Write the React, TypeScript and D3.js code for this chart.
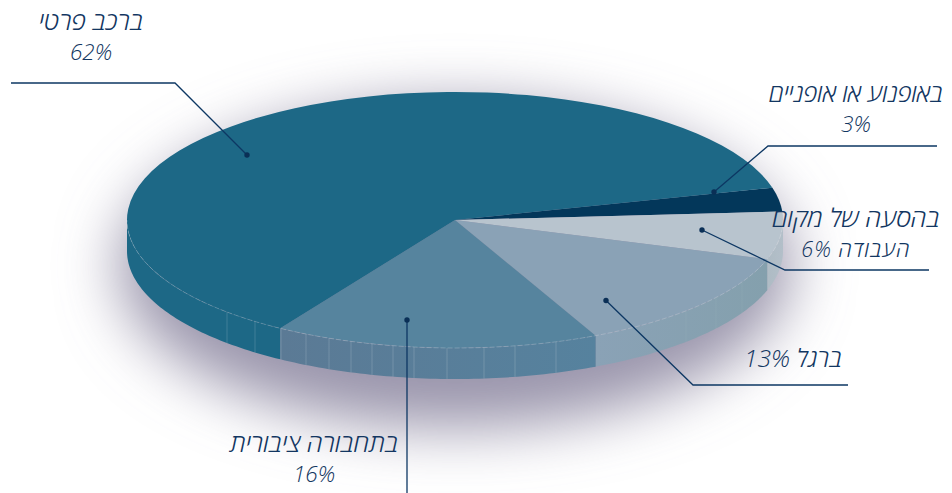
import React from "react";
import * as d3 from "d3";

// Commute modes, listed clockwise from the narrow bicycle slice.
const modes = ["bike", "shuttle", "walk", "transit", "car"];
const shares = [3, 6, 13, 16, 62];
const topColors = ["#03375a", "#b8c4ce", "#8aa2b6", "#56849e", "#1d6886"];
const wallLeft = ["#03375a", "#aebbc4", "#8aa2b6", "#5b7a95", "#1d6886"];
const wallRight = ["#03375a", "#b3bfc9", "#84a0ad", "#56829e", "#1d6886"];

// Horizontal positions of the panel seams on the visible rim.
const seamXs = [227, 255, 281, 306, 329, 351, 372, 393, 414, 447, 484, 515, 556, 686, 716, 742, 768];

const labelLines = [
  ["באופנוע או אופניים", "3%"],
  ["בהסעה של מקום", "העבודה 6%"],
  ["ברגל 13%"],
  ["בתחבורה ציבורית", "16%"],
  ["ברכב פרטי", "62%"],
];

const W = 952;
const H = 493;
const cx = 455;
const cy = 220;
const rx = 328;
const ry = 128;
const depth = 31;
const ink = "#123661";
const wire = "#0d3763";

// Callout layout per mode: text centre, first baseline, line gap, type sizes, leader polyline.
const callouts = [
  { x: 856, y: 102, gap: 29.5, sizes: [24.5, 22.5], track: [0, 0], pts: [[714, 192], [768, 146], [937, 146]] },
  { x: 856, y: 226.5, gap: 30.5, sizes: [25.5, 21.5], track: [0, 1.1], pts: [[702, 230], [785, 270], [929, 270]] },
  { x: 793, y: 367, gap: 0, sizes: [24.5], track: [0], pts: [[606, 300.5], [693, 385], [848, 385]] },
  { x: 314, y: 452, gap: 29.5, sizes: [25.5, 22.5], track: [0, 0], pts: [[407, 320], [407, 493]] },
  { x: 91, y: 30, gap: 29.5, sizes: [25.5, 22.5], track: [0, 0], pts: [[247, 155], [175, 83], [11, 83]] },
];

const pie = d3
  .pie<number>()
  .sort(null)
  .startAngle((75.4 * Math.PI) / 180)
  .endAngle((75.4 * Math.PI) / 180 + 2 * Math.PI);
const arcs = pie(shares);
const topArc = d3.arc<d3.PieArcDatum<number>>().innerRadius(0).outerRadius(rx);

// Pie angles run clockwise from twelve o'clock; map them onto the flattened rim.
const rimX = (a: number) => cx + rx * Math.sin(a);
const rimY = (a: number) => cy - ry * Math.cos(a);
const rimAt = (x: number) => cy + ry * Math.sqrt(1 - ((x - cx) / rx) ** 2);

const line = d3.line<[number, number]>();

function wallPath(a0: number, a1: number) {
  // Only the part of the rim facing the viewer (pie angles 90deg to 270deg) is visible.
  const tau = 2 * Math.PI;
  const pieces: string[] = [];
  for (const shift of [0, tau]) {
    const s = Math.max(a0, Math.PI / 2 + shift);
    const e = Math.min(a1, (3 * Math.PI) / 2 + shift);
    if (e <= s) continue;
    const samples = d3.range(0, 61).map((i) => s + ((e - s) * i) / 60);
    const upper = samples.map((a) => [rimX(a), rimY(a)] as [number, number]);
    const lower = samples
      .slice()
      .reverse()
      .map((a) => [rimX(a), rimY(a) + depth] as [number, number]);
    pieces.push((line([...upper, ...lower]) as string) + "Z");
  }
  return pieces.join("");
}

const rimCurve = d3
  .range(0, 121)
  .map((i) => Math.PI / 2 + (Math.PI * i) / 120)
  .map((a) => [rimX(a), rimY(a)] as [number, number]);

export default function App() {
  return (
    <svg
      width={W}
      height={H}
      viewBox={`0 0 ${W} ${H}`}
      style={{ position: "absolute", left: 0, top: 0, background: "#fff" }}
    >
      <defs>
        <filter id="ground" x="-30%" y="-60%" width="160%" height="220%">
          <feGaussianBlur stdDeviation="30" />
        </filter>
        {modes.map((m, i) => (
          <linearGradient key={m} id={`wall-${m}`} x1="0" x2="1" y1="0" y2="0">
            <stop offset="0" stopColor={wallLeft[i]} />
            <stop offset="1" stopColor={wallRight[i]} />
          </linearGradient>
        ))}
      </defs>

      <ellipse
        cx={cx}
        cy={cy + 46}
        rx={rx + 8}
        ry={ry + 34}
        fill="#8f8aa3"
        fillOpacity={0.9}
        filter="url(#ground)"
      />

      {arcs.map((d, i) => (
        <path
          key={modes[i] + "-wall"}
          d={wallPath(d.startAngle, d.endAngle)}
          fill={`url(#wall-${modes[i]})`}
        />
      ))}

      {seamXs.map((x) => (
        <line
          key={x}
          x1={x}
          x2={x}
          y1={rimAt(x)}
          y2={rimAt(x) + depth}
          stroke="#fff"
          strokeOpacity={x > 596 ? 0.05 : 0.16}
          strokeWidth={1}
        />
      ))}

      <g transform={`translate(${cx},${cy}) scale(1,${ry / rx})`}>
        {arcs.map((d, i) => (
          <path key={modes[i]} d={topArc(d) as string} fill={topColors[i]} />
        ))}
      </g>

      <path
        d={line(rimCurve) as string}
        fill="none"
        stroke="#fff"
        strokeOpacity={0.2}
        strokeWidth={1}
        strokeDasharray="5 2"
      />

      {callouts.map((c, i) => (
        <g key={modes[i] + "-callout"}>
          <path
            d={line(c.pts as [number, number][]) as string}
            fill="none"
            stroke={wire}
            strokeWidth={1.3}
          />
          <circle cx={c.pts[0][0]} cy={c.pts[0][1]} r={2.7} fill="#0a2f56" />
          <text
            textAnchor="middle"
            direction="rtl"
            fontFamily="'Open Sans', 'Liberation Sans', 'DejaVu Sans', sans-serif"
            fontStyle="italic"
            fontWeight={300}
            fill={ink}
          >
            {labelLines[i].map((t, j) => (
              <tspan
                key={j}
                x={c.x}
                y={c.y + j * c.gap}
                fontSize={c.sizes[j]}
                letterSpacing={c.track[j]}
              >
                {t}
              </tspan>
            ))}
          </text>
        </g>
      ))}
    </svg>
  );
}
